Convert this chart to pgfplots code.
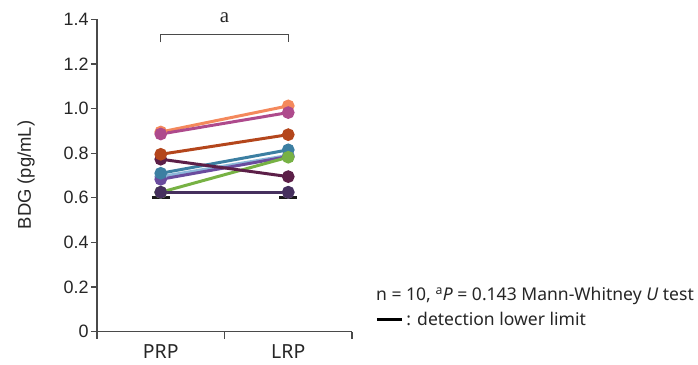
\documentclass[border=0pt]{standalone}
\usepackage{fontspec}
\setmainfont{Noto Sans}
\newfontfamily\arialf{Liberation Sans}
\newfontfamily\seriff{Liberation Serif}
\usepackage{pgfplots}
\pgfplotsset{compat=1.18}
\definecolor{cOrange}{HTML}{F4895C}
\definecolor{cMagenta}{HTML}{AE4A8C}
\definecolor{cDkOrange}{HTML}{B4461C}
\definecolor{cMaroon}{HTML}{5C1F48}
\definecolor{cTeal}{HTML}{3C7FA2}
\definecolor{cLtBlue}{HTML}{8DB8DA}
\definecolor{cPurple}{HTML}{6A4C9E}
\definecolor{cGreen}{HTML}{77B244}
\definecolor{cDkPurple}{HTML}{46305E}
\definecolor{cLavender}{HTML}{B9A8D0}
\definecolor{axgray}{HTML}{4A4A4A}
\begin{document}
\begin{tikzpicture}
\begin{axis}[
  at={(0,0)}, anchor=south west,
  scale only axis, width=255bp, height=312.4bp,
  xmin=-0.5, xmax=1.5, ymin=0, ymax=1.4,
  axis lines=left, axis line style={-, axgray, line width=1.3bp},
  clip=false,
  xtick={0,1}, xticklabels={PRP,LRP},
  major x tick style={draw=none},
  minor xtick={-0.5,0.5,1.5},
  minor x tick style={axgray, line width=1.3bp},
  minor tick length=7bp,
  ytick={0,0.2,0.4,0.6,0.8,1.0,1.2,1.4},
  yticklabels={0,0.2,0.4,0.6,0.8,1.0,1.2,1.4},
  major y tick style={axgray, line width=1.3bp},
  major tick length=6bp,
  tick align=outside,
  /pgf/number format/assume math mode=true,
  yticklabel style={font=\arialf\fontsize{18}{20}\selectfont, text=black!85, xshift=1bp},
  xticklabel style={font=\fontsize{19.5}{21}\selectfont, text=black!85, yshift=-3bp},
]
% detection lower limit bars
\addplot[black!90, line width=3bp, forget plot] coordinates {(-0.07,0.6) (0.07,0.6)};
\addplot[black!90, line width=3bp, forget plot] coordinates {(0.93,0.6) (1.07,0.6)};
% significance bracket
\addplot[axgray, line width=1.3bp, forget plot] coordinates {(0,1.297) (0,1.333) (1,1.333) (1,1.297)};
\node[font=\seriff\fontsize{21}{23}\selectfont, text=black!85] at (axis cs:0.5,1.405) {a};
% paired lines
\pgfplotsset{every axis plot/.append style={line width=3bp, mark=*, mark size=4.8bp, forget plot}}
\addplot[cLavender, mark options={fill=cLavender}] coordinates {(0,0.625) (1,0.625)};
\addplot[cLtBlue, mark options={fill=cLtBlue}] coordinates {(0,0.695) (1,0.79)};
\addplot[cPurple, mark options={fill=cPurple}] coordinates {(0,0.683) (1,0.785)};
\addplot[cTeal, mark options={fill=cTeal}] coordinates {(0,0.71) (1,0.815)};
\addplot[cGreen, mark options={fill=cGreen}] coordinates {(0,0.625) (1,0.782)};
\addplot[cMaroon, mark options={fill=cMaroon}] coordinates {(0,0.773) (1,0.695)};
\addplot[cDkPurple, mark options={fill=cDkPurple}] coordinates {(0,0.625) (1,0.625)};
\addplot[cDkOrange, mark options={fill=cDkOrange}] coordinates {(0,0.795) (1,0.883)};
\addplot[cOrange, mark options={fill=cOrange}] coordinates {(0,0.895) (1,1.012)};
\addplot[cMagenta, mark options={fill=cMagenta}] coordinates {(0,0.886) (1,0.982)};
\end{axis}
% y label
\node[rotate=90, anchor=base, font=\arialf\fontsize{18.5}{20}\selectfont, text=black!85] at (-66bp,156.7bp) {BDG (pg/mL)};
% notes
\node[anchor=base west, inner sep=0pt, font=\fontsize{17.6}{20}\selectfont, text=black!85] at (279bp,31bp) {n = 10, \textsuperscript{a}\textit{P} = 0.143 Mann-Whitney \textit{U} test};
\node[anchor=base west, inner sep=0pt, font=\fontsize{17.6}{20}\selectfont, text=black!85] at (279.7bp,6.4bp) {\textcolor{black}{\rule[4.6bp]{25bp}{2.8bp}} : detection lower limit};
\pgfresetboundingbox
\path[use as bounding box] (-97bp,-33.3bp) rectangle (601bp,331.7bp);
\end{tikzpicture}
\end{document}
